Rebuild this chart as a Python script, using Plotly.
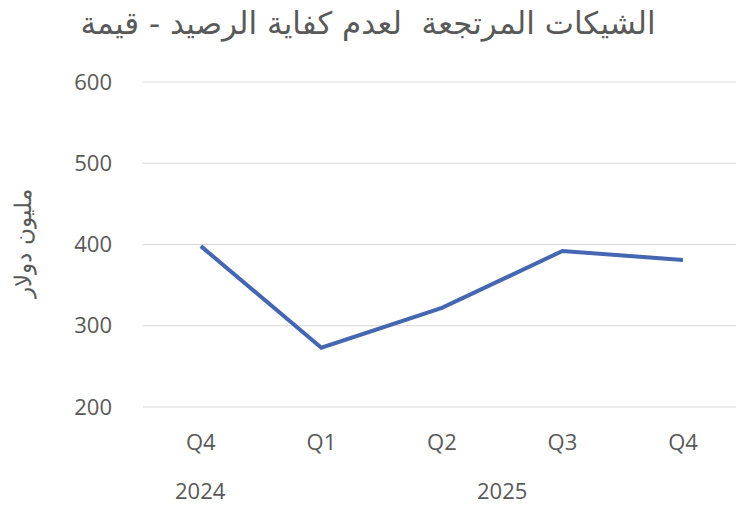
import plotly.graph_objects as go

quarters = ["Q4", "Q1", "Q2", "Q3", "Q4"]
years = ["2024", "2025", "2025", "2025", "2025"]
values = [398, 273, 322, 392, 381]
y_ticks = [200, 300, 400, 500, 600]

title_text = "الشيكات المرتجعة  لعدم كفاية الرصيد - قيمة"
y_title = "مليون دولار"

gray = "#595959"
x_idx = list(range(len(quarters)))

fig = go.Figure()
fig.add_trace(go.Scatter(
    x=x_idx, y=values, mode="lines",
    line=dict(color="#4566B0", width=4),
    hoverinfo="skip",
))

fig.update_layout(
    width=736, height=507,
    margin=dict(l=143, r=0, t=81, b=99, autoexpand=False),
    paper_bgcolor="white", plot_bgcolor="white",
    showlegend=False,
    title=dict(text=title_text, x=0.5, xanchor="center", y=0.955, yanchor="middle",
               font=dict(family="DejaVu Sans", size=31, color=gray)),
    font=dict(family="Open Sans", color=gray, size=22),
)
fig.update_xaxes(
    range=[-0.48, 4.44], tickvals=x_idx, ticktext=quarters,
    showgrid=False, showline=False, zeroline=False, automargin=False,
    tickfont=dict(size=22, color=gray), ticklabelstandoff=19,
)
fig.update_yaxes(
    range=[198.8, 601.2], tickvals=y_ticks, showgrid=False,
    zeroline=False, showline=False, tickfont=dict(size=22, color=gray),
    ticklabelstandoff=30, automargin=False,
)

# horizontal gridlines at every tick value (including the range ends)
for v in y_ticks:
    fig.add_shape(type="line", xref="paper", yref="y", x0=0, x1=1, y0=v, y1=v,
                  line=dict(color="#d9d9d9", width=1), layer="below")

# year group labels centred under their quarters
groups = {}
for i, yr in enumerate(years):
    groups.setdefault(yr, []).append(i)
for yr, idx in groups.items():
    fig.add_annotation(
        text=yr, x=sum(idx) / len(idx), xref="x", yref="paper", y=0, yshift=-82,
        xanchor="center", yanchor="middle", showarrow=False,
        font=dict(size=22, color=gray),
    )

fig.add_annotation(
    text=y_title, xref="paper", yref="paper", x=0, y=0.5, xshift=-120,
    xanchor="center", yanchor="middle", textangle=-90, showarrow=False,
    font=dict(family="DejaVu Serif", size=23, color=gray),
)
fig.write_html("out.html", config={"displayModeBar": False},
               post_script="document.body.style.margin='0';document.body.style.padding='0';")
